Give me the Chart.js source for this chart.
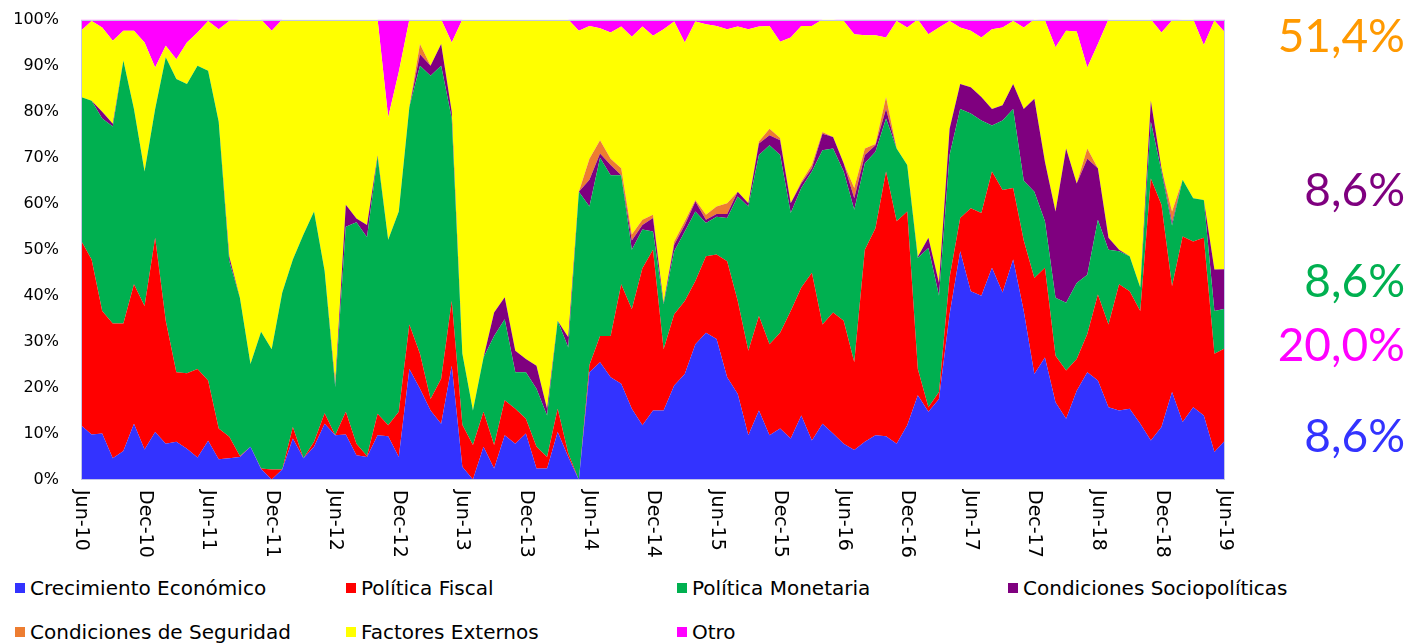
<!DOCTYPE html>
<html lang="es">
<head>
<meta charset="UTF-8"/>
<title>Factores de riesgo</title>
<style>
    html, body {
        margin: 0;
        padding: 0;
        width: 1411px;
        height: 644px;
        background: #fff;
        overflow: hidden;
        font-family: 'DejaVu Sans', sans-serif;
    }
    #wrap {
        position: absolute;
        left: 0;
        top: -4px;
        width: 1411px;
        height: 569px;
    }
    .item {
        position: absolute;
        height: 24px;
        display: flex;
        align-items: center;
        font-size: 20px;
        color: #000;
        white-space: nowrap;
    }
    .item .box {
        width: 10px;
        height: 10px;
        margin-right: 5px;
    }
    .big {
        position: absolute;
        right: 6px;
        font-family: Lato, sans-serif;
        font-size: 46px;
        line-height: 46px;
    }
</style>
<script src="https://cdn.jsdelivr.net/npm/chart.js@4/dist/chart.umd.min.js"></script>
</head>
<body>
<div id="wrap"><canvas id="c"></canvas></div>
<div id="legend"></div>
<div id="side"></div>

<script>
    // Months (categories)
    const months = [
        'Jun-10', 'Jul-10', 'Aug-10', 'Sep-10', 'Oct-10', 'Nov-10', 'Dec-10',
        'Jan-11', 'Feb-11', 'Mar-11', 'Apr-11', 'May-11', 'Jun-11', 'Jul-11', 'Aug-11', 'Sep-11', 'Oct-11', 'Nov-11', 'Dec-11',
        'Jan-12', 'Feb-12', 'Mar-12', 'Apr-12', 'May-12', 'Jun-12', 'Jul-12', 'Aug-12', 'Sep-12', 'Oct-12', 'Nov-12', 'Dec-12',
        'Jan-13', 'Feb-13', 'Mar-13', 'Apr-13', 'May-13', 'Jun-13', 'Jul-13', 'Aug-13', 'Sep-13', 'Oct-13', 'Nov-13', 'Dec-13',
        'Jan-14', 'Feb-14', 'Mar-14', 'Apr-14', 'May-14', 'Jun-14', 'Jul-14', 'Aug-14', 'Sep-14', 'Oct-14', 'Nov-14', 'Dec-14',
        'Jan-15', 'Feb-15', 'Mar-15', 'Apr-15', 'May-15', 'Jun-15', 'Jul-15', 'Aug-15', 'Sep-15', 'Oct-15', 'Nov-15', 'Dec-15',
        'Jan-16', 'Feb-16', 'Mar-16', 'Apr-16', 'May-16', 'Jun-16', 'Jul-16', 'Aug-16', 'Sep-16', 'Oct-16', 'Nov-16', 'Dec-16',
        'Jan-17', 'Feb-17', 'Mar-17', 'Apr-17', 'May-17', 'Jun-17', 'Jul-17', 'Aug-17', 'Sep-17', 'Oct-17', 'Nov-17', 'Dec-17',
        'Jan-18', 'Feb-18', 'Mar-18', 'Apr-18', 'May-18', 'Jun-18', 'Jul-18', 'Aug-18', 'Sep-18', 'Oct-18', 'Nov-18', 'Dec-18',
        'Jan-19', 'Feb-19', 'Mar-19', 'Apr-19', 'May-19', 'Jun-19'
    ];

    // Shares (%) per month, one array per factor
    const crecimiento = [
        11.9, 9.9, 10.1, 4.7, 6.3, 12.2, 6.6, 10.4, 7.9, 8.3,
        6.8, 4.9, 8.5, 4.5, 4.7, 5.0, 7.2, 2.4, 0.1, 2.3,
        9.0, 4.7, 7.2, 12.2, 9.7, 9.9, 5.4, 5.0, 9.7, 9.5,
        5.0, 24.1, 19.8, 15.1, 12.2, 24.8, 2.9, 0.1, 7.2, 2.5,
        9.7, 7.9, 10.1, 2.5, 2.5, 10.4, 5.0, 0, 23.4, 25.6,
        22.3, 20.9, 15.5, 11.9, 15.1, 15.1, 20.5, 23.0, 29.5, 32.0,
        30.6, 22.3, 18.7, 9.7, 15.1, 9.7, 11.2, 9.0, 14.0, 8.6,
        12.2, 10.1, 7.9, 6.5, 8.3, 9.7, 9.5, 7.9, 11.9, 18.4,
        14.8, 17.6, 36.0, 49.7, 41.0, 40.0, 46.1, 40.7, 47.9, 36.7,
        23.0, 26.6, 16.9, 13.3, 19.4, 23.4, 21.6, 15.8, 15.1, 15.5,
        12.2, 8.6, 11.5, 19.1, 12.6, 15.8, 14.0, 6.1, 8.6
    ];
    const fiscal = [
        40.1, 38.0, 26.6, 29.3, 27.7, 30.3, 31.2, 42.2, 26.7, 15.1,
        16.4, 19.2, 13.1, 6.7, 4.7, 0.2, 0, 0.1, 2.2, 0,
        2.5, 0, 1.1, 2.3, 0, 4.9, 2.5, 0.2, 4.7, 2.4,
        9.8, 9.7, 7.6, 2.5, 9.8, 14.1, 9.1, 7.5, 7.6, 5.1,
        7.6, 7.6, 3.2, 4.7, 2.5, 5.1, 0.8, 0, 1.6, 5.7,
        9.0, 21.6, 21.6, 34.1, 34.9, 13.3, 15.5, 15.9, 13.7, 16.6,
        18.4, 25.2, 20.2, 18.4, 20.5, 19.8, 20.8, 27.7, 27.8, 36.4,
        21.6, 26.3, 26.7, 19.1, 41.7, 45.0, 57.5, 48.3, 46.4, 5.7,
        1.0, 1.5, 8.0, 7.2, 18.0, 18.0, 20.9, 22.3, 15.5, 15.3,
        20.9, 19.5, 10.1, 10.5, 6.9, 8.3, 18.7, 18.0, 27.4, 25.5,
        24.5, 56.9, 48.3, 23.0, 40.3, 36.0, 38.6, 21.3, 20.0
    ];
    const monetaria = [
        31.2, 34.5, 41.8, 42.8, 57.1, 38.1, 29.2, 28.0, 57.2, 63.7,
        62.8, 65.9, 67.3, 66.6, 38.1, 34.4, 18.0, 29.7, 26.1, 38.4,
        36.4, 48.6, 50.0, 30.9, 10.5, 40.2, 48.1, 47.5, 55.8, 40.3,
        43.5, 47.2, 62.6, 70.2, 68.0, 39.6, 15.5, 7.5, 11.8, 23.7,
        17.6, 7.9, 10.1, 12.6, 9.0, 19.1, 23.0, 62.6, 34.4, 38.7,
        34.9, 23.7, 12.9, 8.4, 4.0, 9.8, 13.7, 15.1, 15.1, 7.2,
        8.2, 9.4, 22.7, 31.3, 35.0, 43.2, 38.6, 21.3, 21.6, 22.0,
        37.8, 35.6, 32.4, 33.1, 18.8, 16.6, 11.5, 15.8, 10.1, 24.1,
        34.6, 20.9, 26.6, 23.7, 20.6, 20.1, 10.0, 15.1, 17.2, 13.0,
        18.7, 10.1, 12.6, 14.7, 16.5, 12.9, 16.2, 16.2, 7.2, 7.6,
        5.1, 12.3, 7.2, 13.2, 12.3, 9.4, 8.2, 9.3, 8.6
    ];
    const sociopoliticas = [
        0, 0, 1.5, 0.6, 0, 0, 0, 0, 0, 0,
        0, 0, 0, 0, 1.0, 0, 0, 0, 0, 0,
        0, 0, 0, 0, 0.8, 4.8, 0.8, 2.7, 0.3, 0,
        0, 0, 2.5, 2.2, 4.7, 1.5, 0, 0, 0, 5.1,
        4.8, 4.7, 2.9, 5.0, 1.5, 0, 2.2, 0, 5.8, 0.9,
        2.2, 0, 2.0, 1.0, 2.9, 0.3, 1.4, 1.4, 2.2, 0.7,
        0.6, 0.9, 1.0, 0.7, 2.5, 2.2, 3.2, 2.1, 1.0, 0.7,
        3.6, 2.5, 1.8, 2.5, 1.8, 1.4, 2.1, 0, 0, 0.3,
        2.2, 2.8, 5.7, 5.4, 5.7, 5.1, 3.6, 3.3, 5.4, 15.6,
        20.2, 12.9, 18.7, 33.5, 21.6, 25.2, 11.2, 2.6, 0.3, 0,
        0, 4.6, 0.7, 0.7, 0, 0, 0, 9.0, 8.6
    ];
    const seguridad = [
        0, 0, 0, 0, 0, 0, 0, 0, 0, 0,
        0, 0, 0, 0, 0, 0, 0, 0, 0, 0,
        0, 0, 0, 0, 0, 0, 0, 0, 0, 0,
        0, 0, 2.2, 0, 0, 0, 0, 0, 0, 0,
        0, 0, 0, 0, 0, 0, 0, 0, 4.6, 2.9,
        1.4, 1.5, 1.3, 1.1, 0.7, 0, 0.7, 0.8, 0.3, 1.1,
        1.6, 2.3, 0, 0, 0.4, 1.4, 0.5, 0, 0.4, 0.8,
        0.4, 0, 0, 2.2, 1.4, 0.3, 2.6, 0, 0, 0,
        0, 0, 0, 0, 0, 0, 0, 0, 0, 0,
        0, 0, 0, 0, 0, 2.2, 0, 0, 0, 0,
        0, 0, 0, 2.3, 0, 0, 0, 0, 0
    ];
    const externos = [
        14.4, 17.3, 18.3, 18.0, 6.5, 17.0, 28.0, 9.0, 2.5, 4.3,
        9.0, 7.2, 10.8, 20.1, 51.2, 60.4, 74.8, 67.8, 69.2, 59.3,
        52.1, 46.7, 41.7, 54.6, 79.0, 40.2, 43.2, 44.6, 29.5, 26.6,
        30.3, 19.0, 5.3, 10.0, 5.3, 15.0, 72.5, 84.9, 73.4, 63.6,
        60.3, 71.9, 73.7, 75.2, 84.5, 65.4, 69.0, 35.0, 28.8, 24.3,
        27.4, 30.8, 43.0, 42.0, 38.9, 59.4, 47.8, 38.8, 38.8, 41.4,
        39.2, 37.8, 35.9, 37.8, 25.0, 22.3, 20.9, 36.0, 33.8, 30.1,
        24.4, 25.5, 30.9, 33.4, 24.6, 23.6, 12.9, 27.7, 29.9, 51.5,
        44.2, 55.5, 23.4, 12.3, 12.3, 12.9, 17.3, 16.9, 13.7, 17.7,
        17.2, 30.7, 35.7, 25.6, 33.0, 17.6, 27.0, 47.4, 50.0, 51.4,
        58.2, 17.6, 29.5, 41.5, 34.8, 38.8, 33.7, 54.1, 51.4
    ];
    const otro = [
        2.4, 0.3, 1.7, 4.6, 2.4, 2.4, 5.0, 10.4, 5.7, 8.6,
        5.0, 2.8, 0.3, 2.1, 0.3, 0, 0, 0, 2.4, 0,
        0, 0, 0, 0, 0, 0, 0, 0, 0, 21.2,
        11.4, 0, 0, 0, 0, 5.0, 0, 0, 0, 0,
        0, 0, 0, 0, 0, 0, 0, 2.4, 1.4, 1.9,
        2.8, 1.5, 3.7, 1.5, 3.5, 2.1, 0.4, 5.0, 0.4, 1.0,
        1.4, 2.1, 1.5, 2.1, 1.5, 1.4, 4.8, 3.9, 1.4, 1.4,
        0, 0, 0.3, 3.2, 3.4, 3.4, 3.9, 0.3, 1.7, 0,
        3.2, 1.7, 0.3, 1.7, 2.4, 3.9, 2.1, 1.7, 0.3, 1.7,
        0, 0.2, 6.0, 2.4, 2.6, 10.4, 5.3, 0, 0, 0,
        0, 0, 2.8, 0.2, 0, 0, 5.5, 0.2, 2.8
    ];

    const seriesNames = [
        'Crecimiento Económico', 'Política Fiscal', 'Política Monetaria', 'Condiciones Sociopolíticas',
        'Condiciones de Seguridad', 'Factores Externos', 'Otro'
    ];
    const seriesData = [crecimiento, fiscal, monetaria, sociopoliticas, seguridad, externos, otro];
    const seriesColors = ['#3333FF', '#FF0000', '#00B050', '#7F007F', '#ED7D31', '#FFFF00', '#FF00FF'];

    // Last-month shares written on the right
    const sideTexts = ['51,4%', '8,6%', '8,6%', '20,0%', '8,6%'];
    const sideColors = ['#FF9900', '#7F007F', '#00B050', '#FF00FF', '#3333FF'];
    const sideTops = [12, 166, 257, 321, 412];

    // Legend (HTML), 4 columns
    const legendEl = document.getElementById('legend');
    seriesNames.forEach((name, k) => {
        const el = document.createElement('div');
        el.className = 'item';
        el.style.left = (15 + (k % 4) * 331) + 'px';
        el.style.top = (k < 4 ? 576 : 620) + 'px';
        el.innerHTML = '<span class="box" style="background:' + seriesColors[k] + '"></span>' + name;
        legendEl.appendChild(el);
    });

    const sideEl = document.getElementById('side');
    sideTexts.forEach((t, k) => {
        const el = document.createElement('div');
        el.className = 'big';
        el.style.top = sideTops[k] + 'px';
        el.style.color = sideColors[k];
        el.textContent = t;
        sideEl.appendChild(el);
    });

    // light frame round the plot area
    const frame = {
        id: 'frame',
        afterDatasetsDraw(chart) {
            const a = chart.chartArea;
            const c = chart.ctx;
            c.save();
            c.strokeStyle = '#c3c6e6';
            c.lineWidth = 1;
            c.strokeRect(Math.round(a.left) + 0.5, Math.round(a.top) + 0.5,
                Math.round(a.right - a.left) - 1, Math.round(a.bottom - a.top) - 1);
            c.restore();
        }
    };

    // month labels every 6 months, turned to read top-down
    const monthLabels = {
        id: 'monthLabels',
        afterDraw(chart) {
            const xs = chart.scales.x;
            const c = chart.ctx;
            c.save();
            c.font = '19px "DejaVu Sans"';
            c.fillStyle = '#000';
            c.textAlign = 'left';
            c.textBaseline = 'middle';
            months.forEach((m, i) => {
                if (i % 6 !== 0) return;
                c.save();
                c.translate(xs.getPixelForValue(i), chart.chartArea.bottom + 10);
                c.rotate(Math.PI / 2);
                c.fillText(m, 0, 0);
                c.restore();
            });
            c.restore();
        }
    };

    new Chart(document.getElementById('c'), {
        type: 'line',
        data: {
            labels: months,
            datasets: seriesData.map((d, k) => ({
                label: seriesNames[k],
                data: d,
                backgroundColor: seriesColors[k],
                borderWidth: 0,
                pointRadius: 0,
                tension: 0,
                fill: k === 0 ? 'origin' : '-1'
            }))
        },
        options: {
            animation: false,
            responsive: true,
            maintainAspectRatio: false,
            layout: {padding: {top: 12, right: 186, left: 0, bottom: 0}},
            plugins: {
                legend: {display: false},
                tooltip: {enabled: false}
            },
            scales: {
                x: {
                    grid: {display: false},
                    border: {display: false},
                    ticks: {display: false},
                    afterFit: s => { s.height = 85; }
                },
                y: {
                    stacked: true,
                    min: 0,
                    max: 100,
                    grid: {display: false},
                    border: {display: false},
                    ticks: {
                        stepSize: 10,
                        padding: 14,
                        color: '#000',
                        font: {family: 'DejaVu Sans', size: 16},
                        callback: v => v + '%'
                    },
                    afterFit: s => { s.width = 81; }
                }
            }
        },
        plugins: [frame, monthLabels]
    });
</script>
</body>
</html>
